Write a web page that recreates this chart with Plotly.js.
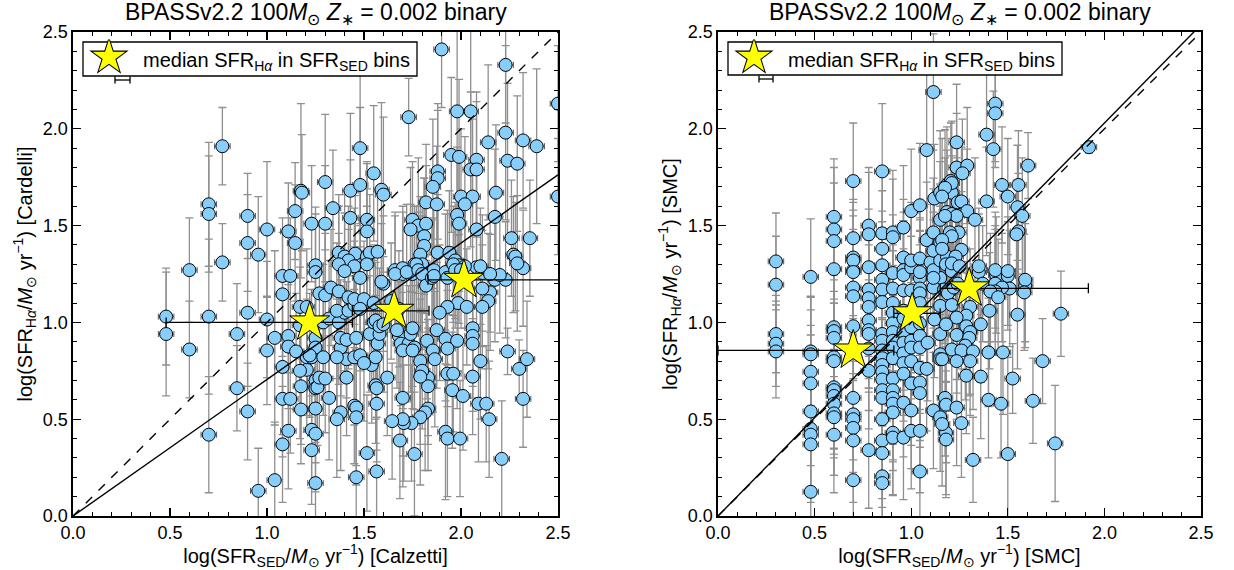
<!DOCTYPE html>
<html><head><meta charset="utf-8">
<script src="https://cdn.plot.ly/plotly-3.0.1.min.js"></script>
<style>html,body{margin:0;padding:0;background:#fff}#chart{width:1234px;height:570px}</style>
</head><body><div id="chart"></div>
<script>
// ---------- Left panel: Calzetti (SED) vs Cardelli (Halpha) ----------
var calzX = [
0.48,0.48,0.60,0.60,0.70,0.70,0.70,0.70,0.77,0.77,
0.845,0.845,0.90,0.90,0.90,0.90,0.955,0.955,1.00,1.00,
1.00,1.04,1.04,1.08,1.08,1.08,1.08,1.08,1.11,1.12,
1.12,1.11,1.11,1.11,1.145,1.145,1.15,1.175,1.17,1.17,
1.175,1.175,1.205,1.205,1.205,1.23,1.23,1.23,1.23,1.25,
1.25,1.25,1.25,1.25,1.25,1.25,1.25,1.25,1.27,1.26,
1.27,1.30,1.18,1.30,1.30,1.34,1.43,1.43,1.48,1.48,
1.55,1.59,1.60,1.515,1.515,1.37,1.40,1.455,1.42,1.37,
1.45,1.515,1.53,1.57,1.515,1.40,1.48,1.73,1.75,1.78,
1.82,1.74,1.81,1.81,1.79,1.88,1.88,1.855,1.82,1.875,
1.90,1.98,2.05,1.95,1.99,2.08,2.05,2.08,2.00,2.06,
2.02,2.18,1.98,1.99,2.175,2.08,2.14,2.23,2.32,2.39,
2.24,2.29,2.23,2.50,2.50,2.26,2.355,1.88,1.94,1.97,
1.99,2.08,2.11,2.175,2.23,2.27,2.28,2.32,1.66,1.70,
1.74,1.76,1.80,1.86,1.92,2.29,2.20,2.15,2.15,2.14,
2.11,2.11,1.985,1.93,2.03,1.89,1.875,1.92,1.98,1.93,
2.06,2.06,2.06,2.10,2.06,1.93,1.96,1.955,2.01,2.09,
2.13,2.145,2.24,2.30,2.34,2.32,2.21,1.92,1.93,1.995,
1.825,1.855,1.865,1.83,1.83,1.83,1.815,1.79,1.745,1.705,
1.70,1.685,1.76,1.645,1.70,1.68,1.69,1.73,1.74,1.76,
1.70,1.75,1.79,1.80,1.79,1.62,1.56,1.565,1.565,1.45,
1.46,1.46,1.38,1.36,1.32,1.515,1.565,1.46,1.41,1.38,
1.41,1.45,1.48,1.54,1.56,1.50,1.38,1.41,1.46,1.53,
1.57,1.58,1.22,1.29,1.36,1.17,1.29,1.32,1.37,1.40,
1.36,1.42,1.45,1.30,1.33,1.37,1.42,1.45,1.50,1.48,
1.55,1.60,1.59,1.64,1.68,1.55,1.56,1.58,1.60,1.67,
1.75,1.77,1.70,1.66,1.75,1.72,1.78,1.80,1.82,1.85,
1.86,1.93,1.96,1.97,2.02,2.00,2.10];
var calzY = [
1.03,0.94,1.27,0.86,1.61,1.56,1.03,0.42,1.91,1.31,
0.94,0.66,1.55,1.41,1.05,0.54,1.35,0.13,1.48,1.015,
0.855,0.92,0.185,1.24,1.145,0.77,0.605,0.37,1.47,1.24,
0.605,0.93,0.875,0.44,1.575,1.41,0.85,1.68,1.08,0.985,
0.67,0.55,1.08,0.755,0.82,1.51,0.82,0.445,0.34,1.295,
0.425,0.17,0.92,0.87,0.70,0.66,0.555,1.26,1.15,0.665,
0.715,0.71,1.67,1.725,1.51,1.59,1.68,1.54,1.90,1.71,
1.77,1.685,1.66,1.53,1.47,1.36,1.34,1.355,1.32,1.30,
1.29,1.34,1.36,1.365,1.30,1.265,1.23,2.06,1.53,1.50,
1.51,1.48,1.445,1.395,1.35,1.78,1.745,1.70,1.62,1.61,
2.41,2.09,2.09,1.865,1.855,1.84,1.79,1.79,1.65,1.65,
1.61,1.67,1.555,1.51,1.545,1.48,1.93,1.98,1.94,1.91,
1.835,1.82,2.33,2.13,1.65,1.435,1.435,1.36,1.36,1.32,
1.295,1.285,1.255,1.22,1.22,1.35,1.34,1.28,1.27,1.25,
1.26,1.30,1.30,1.27,1.26,1.305,1.245,1.25,1.155,1.11,
1.08,1.175,1.10,1.08,1.08,1.05,0.96,0.915,0.905,0.865,
0.97,0.93,0.89,0.80,0.72,0.735,0.735,0.65,0.62,0.58,
0.58,0.50,0.85,0.76,0.81,0.605,0.295,0.435,0.40,0.40,
0.905,0.855,0.81,0.715,0.67,0.555,0.535,0.51,0.48,0.48,
0.50,0.39,0.32,0.49,0.61,0.93,0.89,0.89,0.94,0.87,
0.855,0.855,0.80,0.75,0.72,0.715,0.675,0.66,0.58,0.57,
0.56,0.51,0.535,0.50,0.61,0.325,0.23,0.20,0.715,0.87,
0.81,0.82,0.83,0.78,0.82,0.79,0.92,0.91,0.92,0.94,
0.89,0.94,0.83,0.82,0.82,0.75,1.00,1.02,1.00,1.05,
1.06,1.06,1.09,1.14,1.18,1.16,1.13,1.12,1.12,1.07,
1.10,1.20,1.21,1.11,1.07,1.00,1.01,0.98,0.99,0.96,
0.97,1.30,1.28,1.25,1.25,1.26,1.27,1.25,1.19,1.23,
1.24,1.23,1.30,1.27,1.29,1.27,1.29];
var calzErr = [
0.25,0.32,0.27,0.25,0.32,0.30,0.40,0.30,0.20,0.20,
0.26,0.22,0.22,0.25,0.38,0.25,0.30,0.22,0.35,0.30,
0.28,0.45,0.30,0.30,0.32,0.35,0.30,0.30,0.25,0.30,
0.28,0.30,0.32,0.30,0.25,0.30,0.30,0.45,0.35,0.30,
0.30,0.28,0.30,0.32,0.30,0.30,0.35,0.30,0.28,0.30,
0.30,0.25,0.35,0.30,0.32,0.30,0.28,0.30,0.35,0.30,
0.30,0.28,0.30,0.35,0.30,0.30,0.40,0.30,0.40,0.40,
0.35,0.45,0.40,0.30,0.35,0.30,0.32,0.30,0.28,0.30,
0.30,0.35,0.30,0.32,0.30,0.30,0.28,0.20,0.30,0.35,
0.30,0.32,0.30,0.35,0.30,0.35,0.35,0.35,0.30,0.30,
0.30,0.45,0.45,0.40,0.40,0.35,0.40,0.35,0.35,0.40,
0.35,0.35,0.35,0.35,0.35,0.30,0.40,0.45,0.35,0.40,
0.40,0.35,0.30,0.30,0.30,0.30,0.30,0.30,0.32,0.30,
0.30,0.35,0.30,0.32,0.30,0.30,0.28,0.30,0.30,0.32,
0.35,0.30,0.30,0.32,0.30,0.35,0.30,0.30,0.30,0.35,
0.32,0.30,0.35,0.30,0.30,0.35,0.30,0.32,0.35,0.30,
0.30,0.32,0.35,0.30,0.30,0.32,0.30,0.30,0.28,0.30,
0.30,0.30,0.12,0.15,0.30,0.25,0.30,0.35,0.30,0.30,
0.30,0.32,0.35,0.30,0.30,0.32,0.30,0.35,0.30,0.30,
0.35,0.30,0.32,0.30,0.30,0.30,0.32,0.30,0.30,0.32,
0.30,0.30,0.32,0.30,0.35,0.30,0.30,0.32,0.30,0.30,
0.30,0.35,0.30,0.30,0.32,0.30,0.28,0.30,0.30,0.32,
0.30,0.35,0.30,0.30,0.32,0.30,0.30,0.30,0.35,0.30,
0.30,0.30,0.32,0.30,0.30,0.35,0.30,0.30,0.32,0.30,
0.35,0.30,0.30,0.32,0.30,0.30,0.35,0.30,0.30,0.32,
0.30,0.35,0.30,0.30,0.30,0.32,0.30,0.30,0.35,0.30,
0.30,0.30,0.32,0.30,0.30,0.35,0.30,0.30,0.32,0.30,
0.30,0.35,0.30,0.30,0.32,0.30,0.30];
var calzStarX = [1.22, 1.655, 2.015];
var calzStarY = [1.00, 1.06, 1.22];
var calzBinLo = [0.48, 1.44, 1.83];
var calzBinHi = [1.44, 1.835, 2.90];
var calzFitSlope = 0.705;

// ---------- Right panel: SMC vs SMC ----------
var smcColX = [0.30, 0.48, 0.60, 0.70, 0.78, 0.85, 0.905, 0.96, 1.00, 1.045];
var smcColY = [
 [1.315,1.195,0.94,0.89,0.85],
 [1.235,0.85,0.835,0.745,0.685,0.54,0.45,0.42,0.37,0.125],
 [1.545,1.48,1.42,1.275,0.975,0.955,0.92,0.82,0.80,0.665,0.65,0.62,0.58,0.53,0.51,0.42],
 [1.73,1.435,1.335,1.27,1.32,1.26,1.18,1.135,0.98,0.61,0.525,0.50,0.455,0.39,0.185],
 [1.50,1.455,1.285,1.17,1.125,1.08,1.01,0.96,0.94,0.865,0.75,0.34],
 [1.78,1.46,1.38,1.295,1.22,1.17,1.105,0.94,0.905,0.855,0.815,0.78,0.745,0.705,0.65,0.61,0.50,0.39,0.325,0.205,0.17],
 [1.465,1.44,1.255,1.175,1.10,1.05,0.995,0.95,0.905,0.87,0.815,0.71,0.65,0.61,0.58,0.535,0.43,0.405],
 [1.49,1.335,1.27,1.245,1.165,1.06,1.02,0.95,0.895,0.84,0.79,0.735,0.585,0.405],
 [1.575,1.285,1.32,1.165,1.02,0.975,0.905,0.87,0.80,0.685,0.545,0.44],
 [1.605,1.33,1.23,1.26,1.175,1.15,1.10,0.995,0.93,0.87,0.765,0.69,0.635,0.44,0.23]];
var smcColErr = [
 [0.25,0.25,0.20,0.22,0.24],
 [0.30,0.28,0.30,0.32,0.30,0.28,0.30,0.32,0.30,0.30],
 [0.30,0.32,0.30,0.28,0.30,0.32,0.30,0.28,0.30,0.32,0.30,0.30,0.28,0.32,0.30,0.30],
 [0.30,0.32,0.30,0.28,0.30,0.32,0.30,0.30,0.28,0.32,0.30,0.30,0.28,0.32,0.30],
 [0.30,0.32,0.30,0.28,0.30,0.32,0.30,0.30,0.28,0.32,0.30,0.30],
 [0.35,0.32,0.30,0.28,0.30,0.32,0.30,0.30,0.28,0.32,0.30,0.30,0.28,0.32,0.30,0.30,0.32,0.30,0.28,0.30,0.30],
 [0.32,0.30,0.30,0.28,0.30,0.32,0.30,0.30,0.28,0.32,0.30,0.30,0.28,0.32,0.30,0.30,0.32,0.30],
 [0.32,0.30,0.30,0.28,0.30,0.32,0.30,0.30,0.28,0.32,0.30,0.30,0.28,0.32],
 [0.32,0.30,0.30,0.28,0.30,0.32,0.30,0.30,0.28,0.32,0.30,0.30],
 [0.32,0.30,0.30,0.28,0.30,0.32,0.30,0.30,0.28,0.32,0.30,0.30,0.28,0.32,0.30]];
var smcX = [
1.10,1.15,1.115,1.15,1.12,1.15,1.085,1.15,1.15,1.08,
1.175,1.115,1.15,1.18,1.08,1.115,1.15,1.12,1.15,1.185,
1.205,1.21,1.185,1.21,1.24,1.235,1.235,1.245,1.20,1.08,
1.115,1.115,1.15,1.115,1.15,1.185,1.20,1.115,1.435,1.435,
1.39,1.425,1.605,1.29,1.265,1.21,1.175,1.16,1.26,1.29,
1.235,1.175,1.39,1.33,1.47,1.50,1.555,1.55,1.575,1.555,
1.545,1.92,1.21,1.16,1.16,1.26,1.23,1.18,1.21,1.35,
1.44,1.50,1.59,1.37,1.435,1.21,1.25,1.35,1.435,1.50,
1.59,1.585,1.51,1.47,1.435,1.41,1.45,1.17,1.21,1.19,
1.405,1.55,1.775,1.21,1.305,1.285,1.235,1.18,1.36,1.285,
1.305,1.235,1.30,1.28,1.21,1.26,1.32,1.40,1.475,1.16,
1.235,1.305,1.36,1.285,1.68,1.525,1.40,1.465,1.63,1.18,
1.235,1.26,1.16,1.18,1.32,1.50,1.745,1.22,1.24];
var smcY = [
1.31,1.23,1.18,1.085,1.015,0.94,0.895,0.835,0.81,0.76,
0.61,0.545,0.51,0.43,1.89,2.19,1.53,1.64,1.67,1.71,
1.73,1.67,1.57,1.56,1.62,1.80,1.93,1.465,1.465,1.425,
1.465,1.37,1.415,1.27,1.32,1.34,1.30,1.23,2.13,2.08,
1.97,1.895,1.81,1.81,1.77,1.72,1.695,1.65,1.625,1.575,
1.55,1.55,1.625,1.53,1.71,1.65,1.71,1.595,1.55,1.47,
1.455,1.905,1.445,1.425,1.38,1.375,1.34,1.30,1.265,1.26,
1.245,1.24,1.19,1.20,1.20,1.305,1.29,1.29,1.27,1.265,
1.22,1.155,1.175,1.18,1.16,1.16,1.13,1.17,1.17,1.15,
1.06,1.04,1.045,1.09,1.08,1.035,1.025,0.99,0.99,0.98,
0.95,0.935,0.92,0.88,0.86,0.855,0.85,0.845,0.845,0.81,
0.80,0.80,0.72,0.725,0.80,0.71,0.60,0.58,0.595,0.575,
0.56,0.48,0.475,0.395,0.29,0.32,0.375,1.18,1.20];
var smcErr = [
0.30,0.32,0.30,0.28,0.30,0.32,0.30,0.30,0.28,0.32,
0.30,0.30,0.28,0.32,0.45,0.30,0.30,0.28,0.32,0.30,
0.30,0.28,0.32,0.30,0.30,0.28,0.30,0.32,0.30,0.30,
0.28,0.32,0.30,0.30,0.28,0.32,0.30,0.30,0.30,0.28,
0.32,0.30,0.17,0.30,0.28,0.32,0.30,0.30,0.28,0.32,
0.30,0.30,0.28,0.32,0.30,0.30,0.28,0.32,0.30,0.30,
0.28,0.03,0.30,0.28,0.32,0.30,0.30,0.28,0.32,0.30,
0.30,0.28,0.32,0.30,0.30,0.28,0.32,0.30,0.30,0.28,
0.32,0.30,0.30,0.28,0.32,0.30,0.30,0.28,0.32,0.30,
0.30,0.28,0.22,0.30,0.30,0.28,0.32,0.30,0.30,0.28,
0.32,0.30,0.30,0.28,0.32,0.30,0.30,0.28,0.32,0.30,
0.30,0.28,0.32,0.30,0.22,0.18,0.30,0.28,0.22,0.30,
0.30,0.28,0.32,0.30,0.22,0.50,0.30,0.30,0.28];
var smcStarX = [0.70, 1.005, 1.30];
var smcStarY = [0.855, 1.047, 1.176];
var smcBinLo = [0.00, 0.91, 1.15];
var smcBinHi = [0.91, 1.15, 1.917];
var smcFitSlope = 1.015;

var axisRange = [0, 2.5];
var tickVals = [0, 0.5, 1.0, 1.5, 2.0, 2.5];

// ---------- build traces ----------
function flatten(cols, vals) {
  var xs = [], ys = [];
  for (var i = 0; i < cols.length; i++) {
    for (var j = 0; j < vals[i].length; j++) { xs.push(cols[i]); ys.push(vals[i][j]); }
  }
  return {x: xs, y: ys};
}
var smcCol = flatten(smcColX, smcColY);
var smcColE = [].concat.apply([], smcColErr);

function pointTrace(x, y, e, xa, ya) {
  return {type: 'scatter', mode: 'markers', x: x, y: y, xaxis: xa, yaxis: ya, showlegend: false,
    hoverinfo: 'x+y',
    marker: {size: 13, color: '#87CEFA', line: {color: '#000', width: 1}},
    error_y: {type: 'data', array: e, visible: true, color: '#8f8f8f', thickness: 1.3, width: 4},
    error_x: {type: 'constant', value: 0.04, visible: true, color: '#555', thickness: 1, width: 3}};
}
function lineTrace(slope, dash, xa, ya) {
  var lx = axisRange.slice();
  var ly = lx.map(function (v) { return v * slope; });
  return {type: 'scatter', mode: 'lines', x: lx, y: ly, xaxis: xa, yaxis: ya, showlegend: false,
    hoverinfo: 'skip', line: {color: '#000', width: 1.4, dash: dash}};
}
function starTrace(x, y, lo, hi, xa, ya, leg) {
  var ep = x.map(function (v, i) { return hi[i] - v; });
  var em = x.map(function (v, i) { return v - lo[i]; });
  return {type: 'scatter', mode: 'markers', x: x, y: y, xaxis: xa, yaxis: ya,
    name: 'median SFR<sub>H<i>α</i></sub> in SFR<sub>SED</sub> bins', legend: leg, showlegend: true,
    marker: {symbol: 'star', size: 30, color: '#ffff00', line: {color: '#000', width: 1}},
    error_x: {type: 'data', symmetric: false, array: ep, arrayminus: em, visible: true,
      color: '#000', thickness: 1.3, width: 5}};
}

var data = [
  pointTrace(calzX, calzY, calzErr, 'x', 'y'),
  lineTrace(1.0, 'dash', 'x', 'y'),
  lineTrace(calzFitSlope, 'solid', 'x', 'y'),
  starTrace(calzStarX, calzStarY, calzBinLo, calzBinHi, 'x', 'y', 'legend'),
  pointTrace(smcCol.x.concat(smcX), smcCol.y.concat(smcY), smcColE.concat(smcErr), 'x2', 'y2'),
  lineTrace(1.0, 'dash', 'x2', 'y2'),
  lineTrace(smcFitSlope, 'solid', 'x2', 'y2'),
  starTrace(smcStarX, smcStarY, smcBinLo, smcBinHi, 'x2', 'y2', 'legend2')
];

var FONT = 'Liberation Sans, Arial, Helvetica, sans-serif';
function axis(domain, anchor, title, standoff) {
  return {domain: domain, anchor: anchor, range: axisRange, autorange: false,
    tickvals: tickVals, ticktext: tickVals.map(function (v) { return v.toFixed(1); }),
    ticks: 'inside', ticklen: 8, tickwidth: 1.2, tickcolor: '#000',
    minor: {dtick: 0.1, tick0: 0, ticks: 'inside', ticklen: 4, tickwidth: 1, tickcolor: '#000'},
    showline: true, linecolor: '#000', linewidth: 1.6, mirror: 'allticks',
    showgrid: false, zeroline: false, automargin: false,
    tickfont: {family: FONT, size: 18, color: '#000'},
    title: {text: title, font: {family: FONT, size: 20, color: '#000'}, standoff: standoff}};
}
var yDom = [1 - 516 / 570, 1 - 32 / 570];
var legendBase = {xanchor: 'left', yanchor: 'middle', bgcolor: 'rgba(0,0,0,0)', borderwidth: 0,
  font: {family: FONT, size: 20, color: '#000'}, itemwidth: 50};
var leg1 = Object.assign({x: 83 / 1234, y: 1 - 59 / 570}, legendBase);
var leg2 = Object.assign({x: 728 / 1234, y: 1 - 59 / 570}, legendBase);

// legend frame and the small error-bar glyph that sits under each legend star in the reference
function legendFrame(x0, x1, y0, y1) {
  return {type: 'rect', xref: 'paper', yref: 'paper', layer: 'above',
    x0: x0 / 1234, x1: x1 / 1234, y0: 1 - y1 / 570, y1: 1 - y0 / 570,
    fillcolor: '#fff', line: {color: '#000', width: 1.3}};
}
function legendBarShapes(x0, x1, yPx) {
  var y = 1 - yPx / 570, h = 3.5 / 570;
  var ln = {color: '#000', width: 1.3};
  return [
    {type: 'line', xref: 'paper', yref: 'paper', layer: 'above', x0: x0 / 1234, x1: x1 / 1234, y0: y, y1: y, line: ln},
    {type: 'line', xref: 'paper', yref: 'paper', layer: 'above', x0: x0 / 1234, x1: x0 / 1234, y0: y - h, y1: y + h, line: ln},
    {type: 'line', xref: 'paper', yref: 'paper', layer: 'above', x0: x1 / 1234, x1: x1 / 1234, y0: y - h, y1: y + h, line: ln}
  ];
}

var titleText = 'BPASSv2.2 100<i>M</i><sub>⊙</sub> <i>Z</i><sub>∗</sub> = 0.002 binary';
var layout = {
  width: 1234, height: 570, margin: {l: 0, r: 0, t: 0, b: 0},
  paper_bgcolor: '#fff', plot_bgcolor: '#fff',
  font: {family: FONT, color: '#000'},
  xaxis: axis([73 / 1234, 558 / 1234], 'y', 'log(SFR<sub>SED</sub>/<i>M</i><sub>⊙</sub> yr<sup>−1</sup>) [Calzetti]', 4),
  yaxis: axis(yDom, 'x', 'log(SFR<sub>H<i>α</i></sub>/<i>M</i><sub>⊙</sub> yr<sup>−1</sup>) [Cardelli]', 5),
  xaxis2: axis([718 / 1234, 1201 / 1234], 'y2', 'log(SFR<sub>SED</sub>/<i>M</i><sub>⊙</sub> yr<sup>−1</sup>) [SMC]', 4),
  yaxis2: axis(yDom, 'x2', 'log(SFR<sub>H<i>α</i></sub>/<i>M</i><sub>⊙</sub> yr<sup>−1</sup>) [SMC]', 5),
  legend: leg1, legend2: leg2,
  shapes: [legendFrame(83, 417, 42, 76), legendFrame(728, 1062, 42, 75)]
    .concat(legendBarShapes(115, 130, 80), legendBarShapes(759, 773, 79)),
  annotations: [
    {xref: 'paper', yref: 'paper', x: (73 + 558) / 2 / 1234, y: 1 - 14 / 570, xanchor: 'center', yanchor: 'middle',
     showarrow: false, text: titleText, font: {family: FONT, size: 23, color: '#000'}},
    {xref: 'paper', yref: 'paper', x: (718 + 1201) / 2 / 1234, y: 1 - 14 / 570, xanchor: 'center', yanchor: 'middle',
     showarrow: false, text: titleText, font: {family: FONT, size: 23, color: '#000'}}
  ],
  showlegend: true
};

Plotly.newPlot('chart', data, layout, {displayModeBar: false, staticPlot: true}).then(function (gd) {
  // enlarge the legend star glyphs to match the marker size of the reference legend
  var pts = gd.querySelectorAll('.legendpoints path.scatterpts');
  pts.forEach(function (p) {
    p.setAttribute('transform', 'translate(26,-2) scale(1.7)');
    p.style.strokeWidth = '0.6px';
  });
});
</script>
</body></html>
